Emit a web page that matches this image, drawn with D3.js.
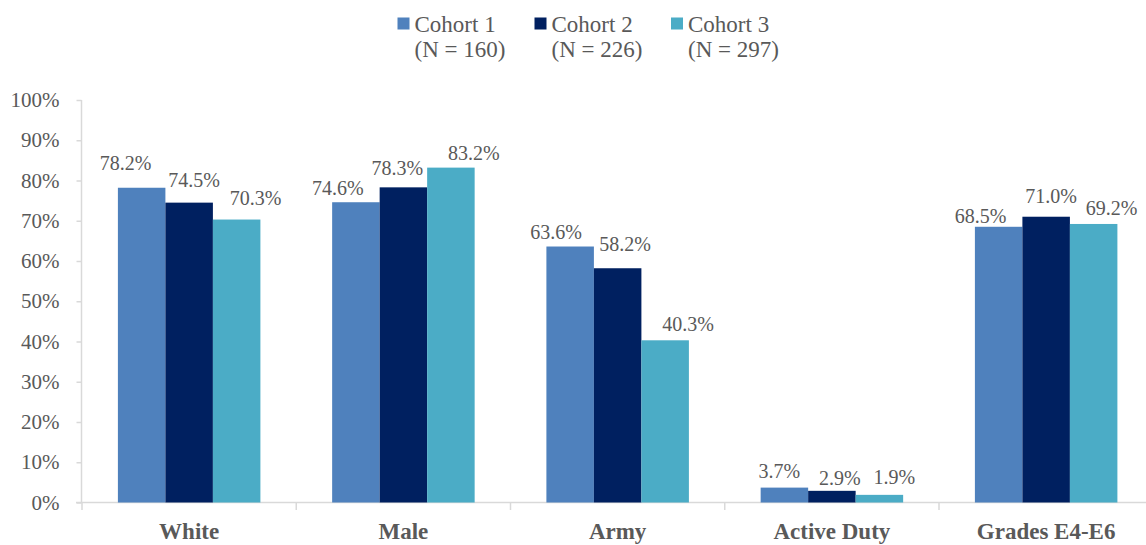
<!DOCTYPE html>
<html><head><meta charset="utf-8">
<script src="https://cdn.jsdelivr.net/npm/d3@7"></script>
</head>
<body style="margin:0;background:#fff">
<svg id="chart" width="1146" height="545"></svg>
<script>
const categories = ["White", "Male", "Army", "Active Duty", "Grades E4-E6"];
const seriesNames = ["Cohort 1", "Cohort 2", "Cohort 3"];
const seriesN = ["(N = 160)", "(N = 226)", "(N = 297)"];
const cohort1 = [78.2, 74.6, 63.6, 3.7, 68.5];
const cohort2 = [74.5, 78.3, 58.2, 2.9, 71.0];
const cohort3 = [70.3, 83.2, 40.3, 1.9, 69.2];
const yTicks = [0, 10, 20, 30, 40, 50, 60, 70, 80, 90, 100];

// label nudges [dx, gap above bar] per category per series (presentation only)
const labelNudge = [
  [[-16, 18], [5, 16], [19, 15]],
  [[-18, 7], [-6, 12], [23, 8]],
  [[-14, 8], [7.5, 17], [23, 9]],
  [[-5, 10], [8, 6], [15, 11]],
  [[-18, 3.5], [5, 14], [18, 9]]
];

const FONT = "Liberation Serif";
const colors = ["#4F81BD", "#002060", "#4BACC6"];
const textColor = "#595959";
const axisColor = "#D9D9D9";
const values = [cohort1, cohort2, cohort3];

const svg = d3.select("#chart");
const x0 = d3.scaleBand().domain(categories).range([82, 82 + 5 * 214.25]).paddingInner(0).paddingOuter(0);
const x1 = d3.scaleBand().domain(seriesNames).range([35.9, 178.4]).padding(0);
const y = d3.scaleLinear().domain([0, 100]).range([502.5, 100]);

// y axis
const yAxis = d3.axisLeft(y).tickValues(yTicks).tickSize(5).tickPadding(17).tickFormat(d => d + "%");
const gy = svg.append("g").attr("transform", "translate(81.5,0)").call(yAxis)
  .attr("font-family", FONT).attr("font-size", 21);
gy.select(".domain").attr("stroke", axisColor).attr("stroke-width", 1.5).attr("d", "M0,100V502.5");
gy.selectAll(".tick line").attr("stroke", axisColor).attr("stroke-width", 1.5);
gy.selectAll(".tick text").attr("fill", textColor).attr("font-family", FONT).attr("font-size", 21);

// x axis
const gx = svg.append("g").attr("transform", "translate(0,502.5)");
gx.append("line").attr("x1", 76).attr("x2", 1160).attr("y1", 0).attr("y2", 0).attr("stroke", axisColor).attr("stroke-width", 1.5);
const bounds = categories.map(c => x0(c)).concat([x0(categories[4]) + x0.bandwidth()]);
gx.selectAll(".ctick").data(bounds).enter().append("line")
  .attr("x1", d => d).attr("x2", d => d).attr("y1", 0).attr("y2", 7.5)
  .attr("stroke", axisColor).attr("stroke-width", 1.5);
gx.selectAll(".clabel").data(categories).enter().append("text")
  .attr("x", d => x0(d) + x0.bandwidth() / 2).attr("y", 36.5)
  .attr("text-anchor", "middle").attr("fill", textColor)
  .attr("font-family", FONT).attr("font-size", 23).attr("font-weight", "bold").text(d => d);

// bars
const groups = svg.append("g").selectAll("g").data(categories).enter().append("g")
  .attr("transform", d => `translate(${x0(d)},0)`);
groups.each(function(cat, ci) {
  const g = d3.select(this);
  seriesNames.forEach((s, si) => {
    const v = values[si][ci];
    g.append("rect")
      .attr("x", x1(s)).attr("width", x1.bandwidth())
      .attr("y", y(v)).attr("height", y(0) - y(v))
      .attr("fill", colors[si]);
    const nd = labelNudge[ci][si];
    g.append("text")
      .attr("x", x1(s) + x1.bandwidth() / 2 + nd[0])
      .attr("y", y(v) - nd[1])
      .attr("text-anchor", "middle").attr("fill", textColor)
      .attr("font-family", FONT).attr("font-size", 20).text(v.toFixed(1) + "%");
  });
});

// legend
const legendX = [397.5, 534.5, 671];
const lg = svg.append("g");
seriesNames.forEach((s, i) => {
  lg.append("rect").attr("x", legendX[i]).attr("y", 17.5).attr("width", 12).attr("height", 12).attr("fill", colors[i]);
  lg.append("text").attr("x", legendX[i] + 17).attr("y", 31.5).attr("fill", textColor)
    .attr("font-family", FONT).attr("font-size", 23).text(s);
  lg.append("text").attr("x", legendX[i] + 17).attr("y", 57).attr("fill", textColor)
    .attr("font-family", FONT).attr("font-size", 23).text(seriesN[i]);
});
</script>
</body></html>
